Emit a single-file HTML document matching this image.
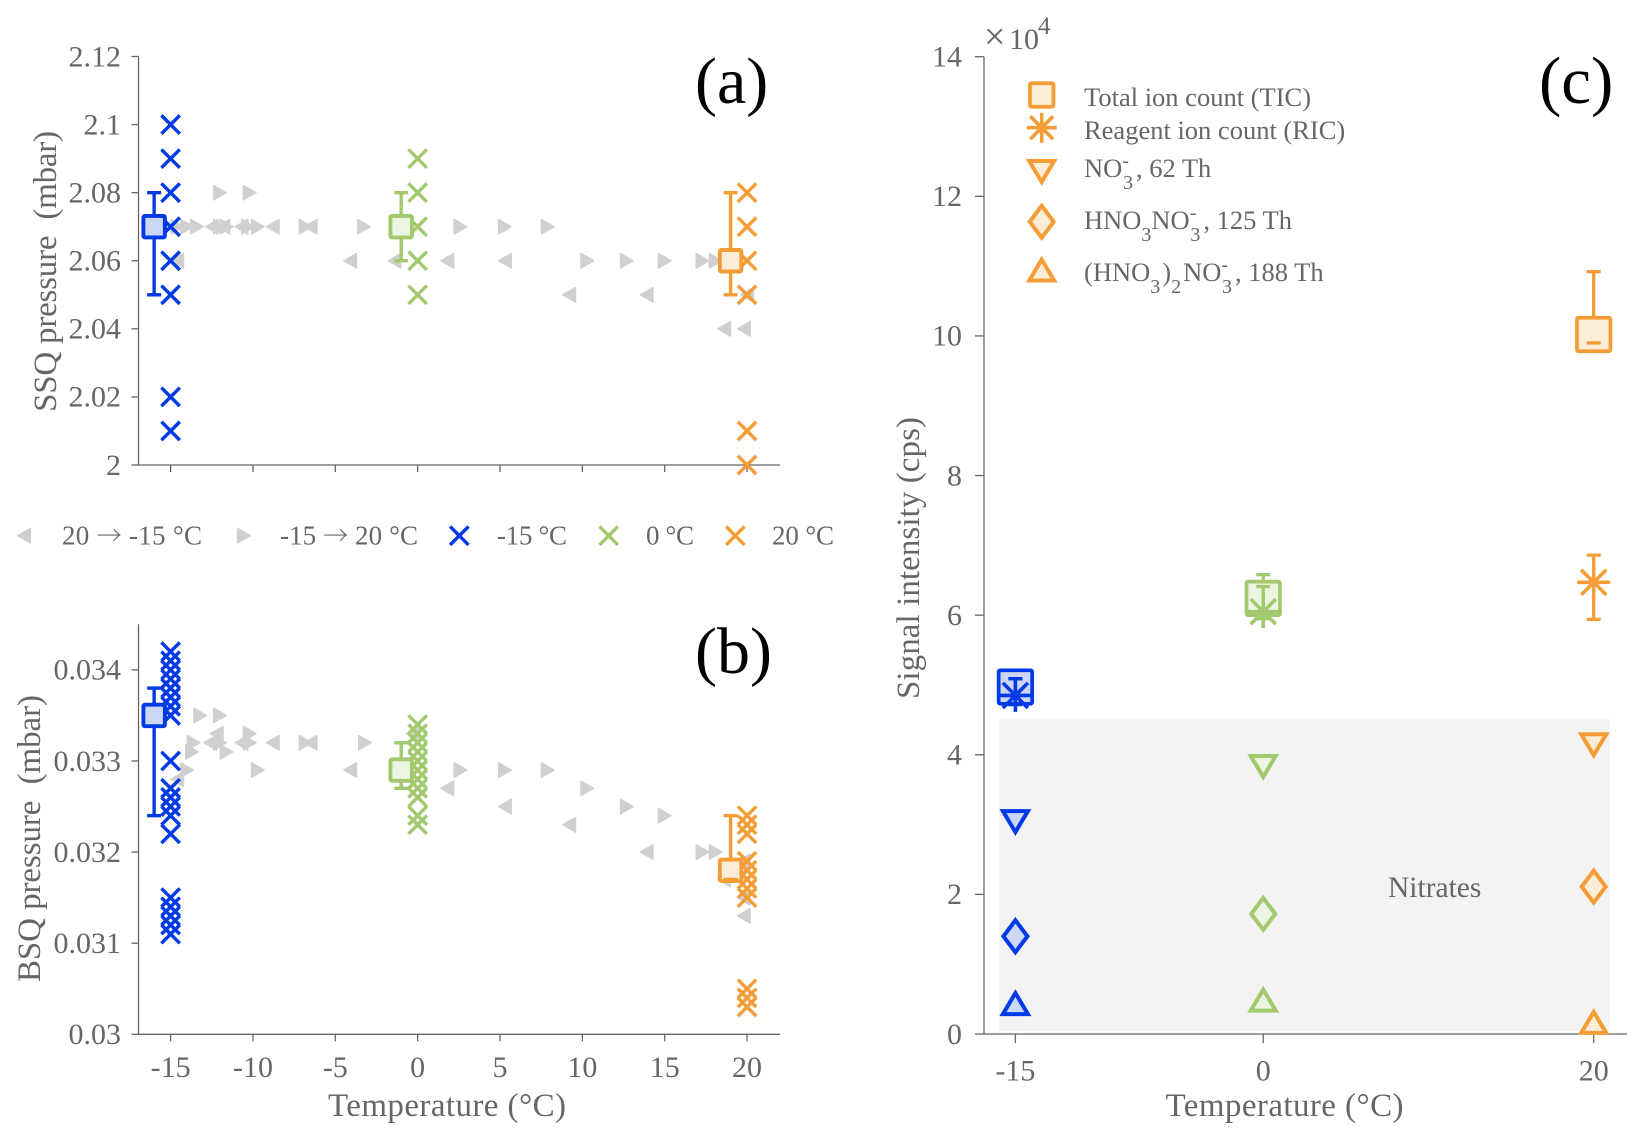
<!DOCTYPE html>
<html lang="en">
<head>
<meta charset="utf-8">
<title>Pressure and signal intensity versus temperature</title>
<style>
html,body{margin:0;padding:0;background:#fff;}
svg{display:block;}
text{font-family:"Liberation Serif","Times New Roman",serif;fill:#666;}
.arrow{font-family:"Noto Serif CJK SC","Noto Sans CJK SC","DejaVu Serif",serif;font-size:25px;}
</style>
</head>
<body>
<svg id="chart" xmlns="http://www.w3.org/2000/svg" width="1645" height="1142" viewBox="0 0 1645 1142">
  <rect x="0" y="0" width="1645" height="1142" fill="#fff"/>
  <rect x="999.3" y="718.5" width="610.7" height="312.5" fill="#f3f3f3"/>

  <g id="panelA"></g>
  <g id="panelB"></g>
  <g id="panelC"></g>
  <g id="legendMid"></g>
  <g id="legendC"></g>

  <text x="695" y="103" font-size="66" style="fill:#000">(a)</text>
  <text x="695" y="673" font-size="66" style="fill:#000">(b)</text>
  <text x="1539" y="103" font-size="67" style="fill:#000">(c)</text>

  <text transform="translate(56,271.4) rotate(-90)" text-anchor="middle" font-size="33" textLength="281" xml:space="preserve">SSQ pressure  (mbar)</text>
  <text transform="translate(40,838.5) rotate(-90)" text-anchor="middle" font-size="33" textLength="287" xml:space="preserve">BSQ pressure  (mbar)</text>
  <text transform="translate(919,558) rotate(-90)" text-anchor="middle" font-size="33" textLength="282">Signal intensity (cps)</text>
  <text x="447" y="1116" text-anchor="middle" font-size="33" textLength="238">Temperature (°C)</text>
  <text x="1284.5" y="1116" text-anchor="middle" font-size="33" textLength="238">Temperature (°C)</text>

  <text x="984" y="49" font-size="38">×</text>
  <text x="1009" y="49" font-size="30">10</text>
  <text x="1038" y="34" font-size="25">4</text>
  <text x="1388" y="897" font-size="29.5">Nitrates</text>

  <text x="1084" y="106" font-size="26.5">Total ion count (TIC)</text>
  <text x="1084" y="139" font-size="26.5">Reagent ion count (RIC)</text>
  <text x="1084" y="177" font-size="26.5">NO<tspan font-size="20" dy="-10">-</tspan><tspan font-size="20" dx="-6" dy="22">3</tspan><tspan dx="3" dy="-12">, 62 Th</tspan></text>
  <text x="1084" y="229" font-size="26.5">HNO<tspan font-size="20" dy="12">3</tspan><tspan dy="-12">NO</tspan><tspan font-size="20" dy="-10">-</tspan><tspan font-size="20" dx="-6" dy="22">3</tspan><tspan dx="3" dy="-12">, 125 Th</tspan></text>
  <text x="1084" y="281" font-size="26.5">(HNO<tspan font-size="20" dy="12">3</tspan><tspan dx="2" dy="-12">)</tspan><tspan font-size="20" dy="12">2</tspan><tspan dx="2" dy="-12">NO</tspan><tspan font-size="20" dy="-10">-</tspan><tspan font-size="20" dx="-6" dy="22">3</tspan><tspan dx="3" dy="-12">, 188 Th</tspan></text>

  <text x="62" y="544.5" font-size="27" textLength="140">20 <tspan class="arrow">→</tspan> -15 °C</text>
  <text x="280" y="544.5" font-size="27" textLength="138">-15 <tspan class="arrow">→</tspan> 20 °C</text>
  <text x="497" y="544.5" font-size="27" textLength="70">-15 °C</text>
  <text x="646" y="544.5" font-size="27" textLength="48">0 °C</text>
  <text x="772" y="544.5" font-size="27" textLength="62">20 °C</text>
</svg>
<script>
// ---- Axis ticks ----
const xTicksAB = [-15, -10, -5, 0, 5, 10, 15, 20];
const xTickLabelsB = ['-15', '-10', '-5', '0', '5', '10', '15', '20'];
const yTicksA = [2, 2.02, 2.04, 2.06, 2.08, 2.1, 2.12];
const yTickLabelsA = ['2', '2.02', '2.04', '2.06', '2.08', '2.1', '2.12'];
const yTicksB = [0.03, 0.031, 0.032, 0.033, 0.034];
const yTickLabelsB = ['0.03', '0.031', '0.032', '0.033', '0.034'];
const xTicksC = [-15, 0, 20];
const xTickLabelsC = ['-15', '0', '20'];
const yTicksC = [0, 2, 4, 6, 8, 10, 12, 14];
const yTickLabelsC = ['0', '2', '4', '6', '8', '10', '12', '14'];

// ---- Panel (a): SSQ pressure ----
const ssqCoolT = [-14.6, -12.5, -11.8, -10.7, -8.8, -6.5, -4.1, -1.4, 1.8, 5.3, 9.2, 13.9, 20, 18.6, 19.8];
const ssqCoolP = [2.06, 2.07, 2.07, 2.07, 2.07, 2.07, 2.06, 2.06, 2.06, 2.06, 2.05, 2.05, 2.05, 2.04, 2.04];
const ssqHeatT = [-14.6, -14, -13.4, -12, -11.6, -10.3, -9.7, -6.8, -3.25, -12, -10.2, 2.6, 5.3, 7.9, 10.3, 12.7, 15, 17.3, 18.1];
const ssqHeatP = [2.07, 2.07, 2.07, 2.07, 2.07, 2.07, 2.07, 2.07, 2.07, 2.08, 2.08, 2.07, 2.07, 2.07, 2.06, 2.06, 2.06, 2.06, 2.06];
const ssqColdSamples = [2.1, 2.09, 2.08, 2.07, 2.06, 2.05, 2.02, 2.01];
const ssqMidSamples = [2.09, 2.08, 2.07, 2.06, 2.05];
const ssqHotSamples = [2.08, 2.07, 2.06, 2.05, 2.01, 2];
const ssqMeanT = [-16, -1, 19];
const ssqMean = [2.07, 2.07, 2.06];
const ssqHigh = [2.08, 2.08, 2.08];
const ssqLow = [2.05, 2.06, 2.05];

// ---- Panel (b): BSQ pressure ----
const bsqCoolT = [-14.6, -12.6, -12.2, -10.7, -8.8, -6.5, -4.1, -0.3, 1.8, 5.3, 9.2, 13.9, 18.6, 19.8, 19.8, 19.8];
const bsqCoolP = [0.0328, 0.0332, 0.0333, 0.0332, 0.0332, 0.0332, 0.0329, 0.0333, 0.0327, 0.0325, 0.0323, 0.032, 0.0317, 0.0319, 0.0315, 0.0313];
const bsqHeatT = [-14, -13.6, -13.7, -13.2, -12, -12, -11.6, -10.2, -10.2, -9.7, -6.8, -3.2, 2.6, 5.3, 7.9, 10.3, 12.7, 15, 17.3, 18.1];
const bsqHeatP = [0.0329, 0.0332, 0.0331, 0.0335, 0.0335, 0.0332, 0.0331, 0.0333, 0.0332, 0.0329, 0.0332, 0.0332, 0.0329, 0.0329, 0.0329, 0.0327, 0.0325, 0.0324, 0.032, 0.032];
const bsqColdSamples = [0.0342, 0.0341, 0.034, 0.0339, 0.0338, 0.0337, 0.0336, 0.0335, 0.033, 0.0327, 0.0326, 0.0325, 0.0324, 0.0322, 0.0315, 0.0314, 0.0313, 0.0312, 0.0311];
const bsqMidSamples = [0.0334, 0.0333, 0.0332, 0.0331, 0.033, 0.0329, 0.0328, 0.0327, 0.0326, 0.0324, 0.0323];
const bsqHotSamples = [0.0324, 0.0323, 0.0322, 0.0319, 0.0318, 0.0317, 0.0316, 0.0315, 0.0305, 0.0304, 0.0303];
const bsqMeanT = [-16, -1, 19];
const bsqMean = [0.0335, 0.0329, 0.0318];
const bsqHigh = [0.0338, 0.0332, 0.0324];
const bsqLow = [0.0324, 0.0327, 0.0317];

// ---- Panel (c): signal intensity, units of 1e4 cps ----
const sigTemps = [-15, 0, 20];
const ticMean = [4.97, 6.24, 10.02];
const ticHigh = [5.09, 6.58, 10.92];
const ticLow = [4.72, 6.02, 9.9];
const ricMean = [4.85, 6.05, 6.47];
const ricHigh = [5.09, 6.41, 6.86];
const ricLow = [4.72, 5.95, 5.94];
const no3Signal = [3.05, 3.84, 4.15];
const hno3no3Signal = [1.4, 1.72, 2.11];
const dimerSignal = [0.4, 0.45, 0.13];

// ---- Palette ----
const BLUE = '#0039e6', BLUE_F = '#ccd7f6';
const GREEN = '#a3c96f', GREEN_F = '#ecf4e2';
const ORANGE = '#f49d37', ORANGE_F = '#fdecd6';
const GRAY = '#d0d0d0', AXIS = '#666';
const colors = [BLUE, GREEN, ORANGE];
const fills = [BLUE_F, GREEN_F, ORANGE_F];

const NS = 'http://www.w3.org/2000/svg';
function scale(d0, d1, r0, r1) {
  return function (v) { return r0 + (v - d0) * (r1 - r0) / (d1 - d0); };
}
function make(parent, tag, attrs) {
  const n = document.createElementNS(NS, tag);
  for (const k in attrs) n.setAttribute(k, attrs[k]);
  parent.appendChild(n);
  return n;
}

// ---- Mark helpers ----
function triangle(p, cx, cy, dir, color) {
  const w = 6.4, h = 7.4;
  const pts = (cx - dir * w) + ',' + (cy - h) + ' ' + (cx + dir * w) + ',' + cy + ' ' + (cx - dir * w) + ',' + (cy + h);
  const el = make(p, 'polygon', { points: pts, fill: color, stroke: color, 'stroke-width': 1.3, 'stroke-linejoin': 'round' });
  
  
}
function cross(p, cx, cy, color) {
  const r = 9.2;
  const el = make(p, 'path', { d: 'M' + (cx - r) + ' ' + (cy - r) + 'L' + (cx + r) + ' ' + (cy + r) + 'M' + (cx - r) + ' ' + (cy + r) + 'L' + (cx + r) + ' ' + (cy - r), fill: 'none', stroke: color, 'stroke-width': 3.4 });
  
  
}
function box(p, cx, cy, size, sw, color, fill) {
  const el = make(p, 'rect', { x: cx - size / 2, y: cy - size / 2, width: size, height: size, rx: 1.5, fill: fill, stroke: color, 'stroke-width': sw });
  
  
}
function errStem(p, cx, yHigh, yLow, color, sw) {
  const el = make(p, 'line', { x1: cx, x2: cx, y1: yHigh, y2: yLow, stroke: color, 'stroke-width': sw });
  
  
}
function errCap(p, cx, y, color, sw) {
  const el = make(p, 'line', { x1: cx - 7, x2: cx + 7, y1: y, y2: y, stroke: color, 'stroke-width': sw });
  
  
}
function asterisk(p, cx, cy, color, a) {
  const d = a * 0.76;
  const path = 'M' + (cx - a) + ' ' + cy + 'L' + (cx + a) + ' ' + cy +
    'M' + cx + ' ' + (cy - a) + 'L' + cx + ' ' + (cy + a) +
    'M' + (cx - d) + ' ' + (cy - d) + 'L' + (cx + d) + ' ' + (cy + d) +
    'M' + (cx - d) + ' ' + (cy + d) + 'L' + (cx + d) + ' ' + (cy - d);
  const el = make(p, 'path', { d: path, fill: 'none', stroke: color, 'stroke-width': 3.6 });
  
  
}
function triDown(p, cx, cy, color, fill) {
  const el = make(p, 'polygon', { points: (cx - 12.5) + ',' + (cy - 10) + ' ' + (cx + 12.5) + ',' + (cy - 10) + ' ' + cx + ',' + (cy + 11), fill: fill, stroke: color, 'stroke-width': 4, 'stroke-linejoin': 'miter' });
  
  
}
function triUp(p, cx, cy, color, fill) {
  const el = make(p, 'polygon', { points: (cx - 12.5) + ',' + (cy + 8) + ' ' + (cx + 12.5) + ',' + (cy + 8) + ' ' + cx + ',' + (cy - 13), fill: fill, stroke: color, 'stroke-width': 4, 'stroke-linejoin': 'miter' });
  
  
}
function diamond(p, cx, cy, color, fill) {
  const el = make(p, 'polygon', { points: (cx - 12) + ',' + cy + ' ' + cx + ',' + (cy - 16) + ' ' + (cx + 12) + ',' + cy + ' ' + cx + ',' + (cy + 16), fill: fill, stroke: color, 'stroke-width': 4, 'stroke-linejoin': 'miter' });
  
  
}

// ---- Axes ----
function drawAxes(p, opt) {
  const yLine = make(p, 'line', { x1: opt.left, x2: opt.left, y1: opt.top, y2: opt.bottom, stroke: AXIS, 'stroke-width': 1.3 });
  
  
  const xLine = make(p, 'line', { x1: opt.left, x2: opt.right, y1: opt.bottom, y2: opt.bottom, stroke: AXIS, 'stroke-width': 1.3 });
  
  
  opt.yTicks.forEach(function (v, i) {
    const y = opt.y(v);
    const t = make(p, 'line', { x1: opt.left - opt.tick, x2: opt.left, y1: y, y2: y, stroke: AXIS, 'stroke-width': 1.3 });
    
    
    const l = make(p, 'text', { x: opt.yLabelX, y: y + 9.8, 'text-anchor': 'end', 'font-size': 30 });
    l.textContent = opt.yLabels[i];
    
    
  });
  opt.xTicks.forEach(function (v, i) {
    const x = opt.x(v);
    const t = make(p, 'line', { x1: x, x2: x, y1: opt.bottom, y2: opt.bottom + opt.tick, stroke: AXIS, 'stroke-width': 1.3 });
    
    
    if (opt.xLabels) {
      const l = make(p, 'text', { x: x, y: opt.xLabelY, 'text-anchor': 'middle', 'font-size': 30 });
      l.textContent = opt.xLabels[i];
      
      
    }
  });
}

function drawPressurePanel(p, x, y, d) {
  d.coolT.forEach(function (t, i) { triangle(p, x(t), y(d.coolP[i]), -1, GRAY); });
  d.heatT.forEach(function (t, i) { triangle(p, x(t), y(d.heatP[i]), 1, GRAY); });
  d.samples.forEach(function (list, k) {
    list.forEach(function (v) { cross(p, x(sigTemps[k]), y(v), colors[k]); });
  });
  d.meanT.forEach(function (t, k) {
    errStem(p, x(t), y(d.high[k]), y(d.low[k]), colors[k], 3.4);
    box(p, x(t), y(d.mean[k]), 21.5, 3.9, colors[k], fills[k]);
    errCap(p, x(t), y(d.high[k]), colors[k], 3.4);
    errCap(p, x(t), y(d.low[k]), colors[k], 3.4);
  });
}

// Panel A
const xAB = scale(-16.95, 22, 138.5, 780);
const yA = scale(2, 2.12, 465, 56.5);
const panelA = document.getElementById('panelA');
drawAxes(panelA, { left: 138.5, right: 780, top: 56.5, bottom: 465, tick: 7, x: xAB, y: yA, xTicks: xTicksAB, xLabels: null, yTicks: yTicksA, yLabels: yTickLabelsA, yLabelX: 121 });
drawPressurePanel(panelA, xAB, yA, { coolT: ssqCoolT, coolP: ssqCoolP, heatT: ssqHeatT, heatP: ssqHeatP, samples: [ssqColdSamples, ssqMidSamples, ssqHotSamples], meanT: ssqMeanT, mean: ssqMean, high: ssqHigh, low: ssqLow });

// Panel B
const yB = scale(0.03, 0.0345, 1034.3, 624.3);
const panelB = document.getElementById('panelB');
drawAxes(panelB, { left: 138.5, right: 780, top: 624.3, bottom: 1034.3, tick: 7, x: xAB, y: yB, xTicks: xTicksAB, xLabels: xTickLabelsB, xLabelY: 1077, yTicks: yTicksB, yLabels: yTickLabelsB, yLabelX: 121 });
drawPressurePanel(panelB, xAB, yB, { coolT: bsqCoolT, coolP: bsqCoolP, heatT: bsqHeatT, heatP: bsqHeatP, samples: [bsqColdSamples, bsqMidSamples, bsqHotSamples], meanT: bsqMeanT, mean: bsqMean, high: bsqHigh, low: bsqLow });

// Panel C
const xC = scale(-15, 20, 1015.4, 1593.7);
const yC = scale(0, 14, 1034, 56.7);
const panelC = document.getElementById('panelC');
drawAxes(panelC, { left: 984, right: 1627, top: 56.7, bottom: 1034, tick: 9, x: xC, y: yC, xTicks: xTicksC, xLabels: xTickLabelsC, xLabelY: 1080.5, yTicks: yTicksC, yLabels: yTickLabelsC, yLabelX: 962 });
sigTemps.forEach(function (t, k) {
  const cx = xC(t);
  errStem(panelC, cx, yC(ticHigh[k]), yC(ticLow[k]), colors[k], 3.3);
  box(panelC, cx, yC(ticMean[k]), 33.5, 3.7, colors[k], fills[k]);
  errCap(panelC, cx, yC(ticHigh[k]), colors[k], 3.3);
  errCap(panelC, cx, yC(ticLow[k]), colors[k], 3.3);
  errStem(panelC, cx, yC(ricHigh[k]), yC(ricLow[k]), colors[k], 3.3);
  errCap(panelC, cx, yC(ricHigh[k]), colors[k], 3.3);
  errCap(panelC, cx, yC(ricLow[k]), colors[k], 3.3);
  asterisk(panelC, cx, yC(ricMean[k]), colors[k], 16.5);
  triDown(panelC, cx, yC(no3Signal[k]), colors[k], fills[k]);
  diamond(panelC, cx, yC(hno3no3Signal[k]), colors[k], fills[k]);
  triUp(panelC, cx, yC(dimerSignal[k]), colors[k], fills[k]);
});

// Legends
const legendMid = document.getElementById('legendMid');
triangle(legendMid, 24, 535.7, -1, GRAY);
triangle(legendMid, 244, 535.7, 1, GRAY);
cross(legendMid, 459.3, 535.7, BLUE);
cross(legendMid, 608.7, 535.7, GREEN);
cross(legendMid, 735.3, 535.7, ORANGE);

const legendC = document.getElementById('legendC');
box(legendC, 1041.7, 95, 23.5, 3.8, ORANGE, ORANGE_F);
asterisk(legendC, 1041.7, 127.7, ORANGE, 15);
triDown(legendC, 1041.7, 171, ORANGE, ORANGE_F);
diamond(legendC, 1041.7, 221.7, ORANGE, ORANGE_F);
triUp(legendC, 1041.7, 272.5, ORANGE, ORANGE_F);
</script>
</body>
</html>
